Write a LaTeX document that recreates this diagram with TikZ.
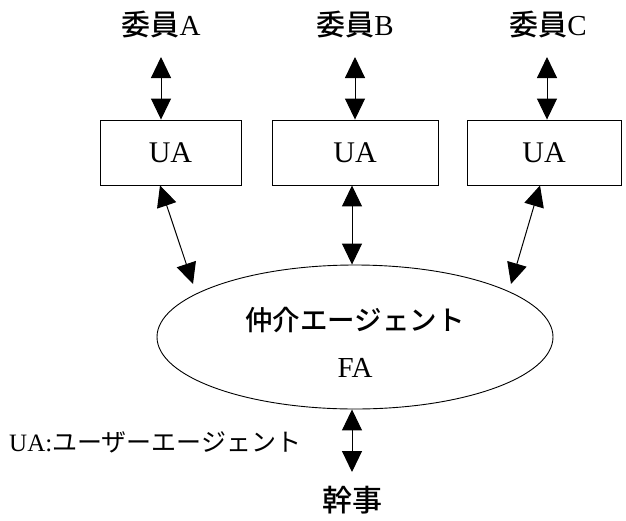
\documentclass[tikz,border=0pt]{standalone}
\usepackage{fontspec}
\setmainfont{Liberation Serif}
\newfontfamily\jp{Noto Sans CJK JP}
\newfontfamily\jpm{Noto Sans CJK JP Medium}
\usetikzlibrary{arrows.meta,shapes.geometric}
\begin{document}
\begin{tikzpicture}[x=1pt,y=-1pt,
  lbl/.style={font=\fontsize{29}{32}\selectfont, inner sep=0pt},
  uabox/.style={draw, line width=0.9pt, minimum width=141pt, minimum height=65pt, font=\fontsize{30}{32}\selectfont},
  biarrow/.style={{Triangle[width=20pt,length=21pt]}-{Triangle[width=20pt,length=21pt]}, line width=1pt}]
\useasboundingbox (0,0) rectangle (626,520);
\node[lbl] (ca) at (161,25) {{\jpm 委員}A};
\node[lbl] (cb) at (355,25) {{\jpm 委員}B};
\node[lbl] (cc) at (548,25) {{\jpm 委員}C};
\node[uabox] (ua) at (170.5,152.5) {UA};
\node[uabox, minimum width=166pt] (ub) at (355,152.5) {UA};
\node[uabox, minimum width=154pt] (uc) at (544,152.5) {UA};
\node[draw, ellipse, line width=0.9pt, minimum width=396pt, minimum height=144pt] (fa) at (355,337) {};
\node[lbl, font=\fontsize{27.5}{30}\selectfont] (fat) at (355,320) {\jpm 仲介エージェント};
\node[lbl] (fan) at (355,368) {FA};
\node[lbl, font=\fontsize{30}{32}\selectfont] (kj) at (352,500) {\jpm 幹事};
\node[lbl, font=\fontsize{25}{28}\selectfont, anchor=west] (leg) at (9,442) {UA:{\jp ユーザーエージェント}};
\coordinate (ta) at (161,57);
\coordinate (tb) at (355,57);
\coordinate (tc) at (547,57);
\coordinate (xa) at (160,0);
\coordinate (xb) at (352,0);
\coordinate (xc) at (540,0);
\draw[biarrow] (ta) -- (ua.north -| ta);
\draw[biarrow] (tb) -- (ub.north -| tb);
\draw[biarrow] (tc) -- (uc.north -| tc);
\coordinate (e1) at (193,284);
\coordinate (e3) at (511,284);
\draw[biarrow] (ua.south -| xa) -- (e1);
\draw[biarrow] (ub.south -| xb) -- (fa.north -| xb);
\draw[biarrow] (uc.south -| xc) -- (e3);
\coordinate (bk) at (352,472);
\draw[biarrow] (fa.south -| xb) -- (bk);
\end{tikzpicture}
\end{document}
